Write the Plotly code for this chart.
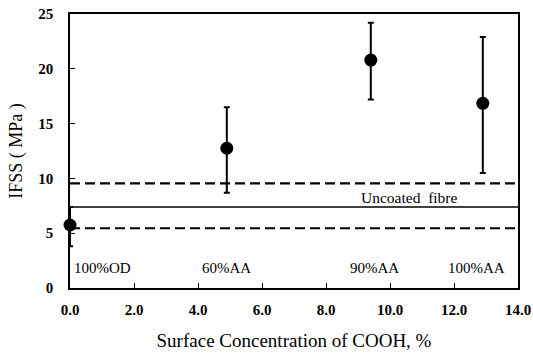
import plotly.graph_objects as go

x_conc = [0.0, 4.9, 9.4, 12.9]
ifss = [5.75, 12.75, 20.8, 16.85]
err_plus = [1.65, 3.75, 3.4, 6.05]
err_minus = [1.95, 4.05, 3.6, 6.35]
labels = ["100%OD", "60%AA", "90%AA", "100%AA"]
label_x = [1.0, 4.9, 9.5, 12.7]
label_y = 1.8
uncoated_mean = 7.4
uncoated_upper = 9.55
uncoated_lower = 5.45

FONT = "Liberation Serif, Times New Roman, serif"

fig = go.Figure()
fig.add_trace(go.Scatter(
    x=x_conc, y=ifss, mode="markers",
    marker=dict(color="black", size=13),
    error_y=dict(type="data", symmetric=False, array=err_plus, arrayminus=err_minus,
                 color="black", thickness=2, width=3),
    showlegend=False, cliponaxis=False,
))
for yv, dash, w in [(uncoated_upper, "dash", 2.2), (uncoated_mean, "solid", 1.5), (uncoated_lower, "dash", 2.2)]:
    fig.add_shape(type="line", xref="paper", x0=0, x1=1, yref="y", y0=yv, y1=yv,
                  line=dict(color="black", width=w, dash=dash if dash == "solid" else "10px,5px"))

fig.add_annotation(x=10.6, y=8.25, text="Uncoated  fibre", showarrow=False,
                   font=dict(family=FONT, size=15.5, color="black"))
for lx, lt in zip(label_x, labels):
    fig.add_annotation(x=lx, y=label_y, text=lt, showarrow=False,
                       font=dict(family=FONT, size=15, color="black"))

fig.update_layout(
    width=533, height=358,
    margin=dict(l=70, r=15, t=14, b=70, autoexpand=False),
    paper_bgcolor="white", plot_bgcolor="white",
    font=dict(family=FONT, color="black"),
)
fig.update_xaxes(
    range=[0, 14], tickvals=[0, 2, 4, 6, 8, 10, 12, 14],
    ticktext=["<b>%.1f</b>" % v for v in [0, 2, 4, 6, 8, 10, 12, 14]],
    ticks="inside", ticklen=5, tickwidth=1, tickcolor="black",
    showline=True, linecolor="black", linewidth=1.5, mirror=True,
    showgrid=False, zeroline=False, automargin=False,
    tickfont=dict(family=FONT, size=15), ticklabelstandoff=7,
    title=dict(text="Surface Concentration of COOH, %", font=dict(family=FONT, size=19), standoff=17),
)
fig.update_yaxes(
    range=[0, 25], tickvals=[0, 5, 10, 15, 20, 25],
    ticktext=["<b>%d</b>" % v for v in [0, 5, 10, 15, 20, 25]],
    ticks="inside", ticklen=5, tickwidth=1, tickcolor="black",
    showline=True, linecolor="black", linewidth=1.5, mirror=True,
    showgrid=False, zeroline=False, automargin=False,
    tickfont=dict(family=FONT, size=15), ticklabelstandoff=12,
    title=dict(text="IFSS ( MPa )", font=dict(family=FONT, size=18), standoff=11),
)
fig.write_html("out.html", config={"displayModeBar": False},
               post_script="document.body.style.margin='0';document.body.style.padding='0';")
